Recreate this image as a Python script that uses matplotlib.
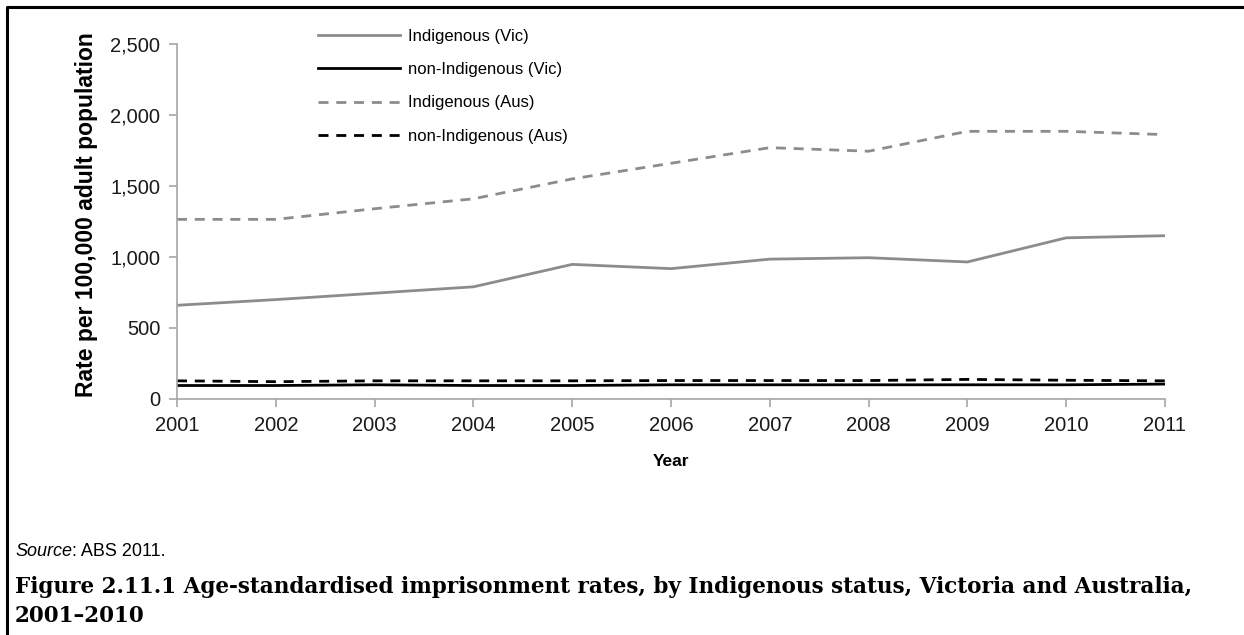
import matplotlib
matplotlib.use("Agg")
import matplotlib.pyplot as plt
from matplotlib.lines import Line2D

plt.rcParams['font.family'] = ['Liberation Sans', 'DejaVu Sans']

years = [2001, 2002, 2003, 2004, 2005, 2006, 2007, 2008, 2009, 2010, 2011]
indig_vic = [660, 700, 745, 790, 948, 918, 985, 995, 965, 1135, 1150]
non_indig_vic = [95, 95, 100, 95, 95, 100, 100, 100, 100, 100, 105]
indig_aus = [1265, 1265, 1340, 1410, 1550, 1660, 1770, 1745, 1885, 1885, 1862]
non_indig_aus = [128, 122, 128, 128, 128, 130, 130, 130, 138, 132, 128]
y_ticks = [0, 500, 1000, 1500, 2000, 2500]

W, H = 1244, 635
fig = plt.figure(figsize=(W / 100, H / 100), dpi=100, facecolor='white')

# axes box in pixels: left 177, right 1165, top 44, bottom 399
ax = fig.add_axes([177 / W, 1 - 399 / H, (1165 - 177) / W, (399 - 44) / H])

grey = '#8c8c8c'
dash = (0, (3.6, 2.8))
ax.plot(years, indig_vic, color=grey, lw=2.0, label='Indigenous (Vic)')
ax.plot(years, non_indig_vic, color='black', lw=2.0, label='non-Indigenous (Vic)')
ax.plot(years, indig_aus, color=grey, lw=2.0, ls=dash, label='Indigenous (Aus)')
ax.plot(years, non_indig_aus, color='black', lw=2.0, ls=dash, label='non-Indigenous (Aus)')

ax.set_xlim(years[0], years[-1])
ax.set_ylim(0, 2500)
ax.set_xticks(years)
ax.set_yticks(y_ticks)
ax.set_yticklabels([f"{v:,}" for v in y_ticks])

for s in ['top', 'right']:
    ax.spines[s].set_visible(False)
for s in ['left', 'bottom']:
    ax.spines[s].set_color('#a6a6a6')
    ax.spines[s].set_linewidth(1.2)
ax.tick_params(axis='both', direction='out', length=6, width=1.2, color='#a6a6a6',
               labelsize=14.5, labelcolor='#1a1a1a')
ax.tick_params(axis='x', pad=6)
ax.tick_params(axis='y', pad=6)

ax.set_xlabel('Year', fontsize=12.5, fontweight='bold', labelpad=14)
ax.set_ylabel('Rate per 100,000 adult population', fontsize=16.5, fontweight='bold')
ax.yaxis.set_label_coords(-0.08, 0.52)

leg = ax.legend(loc='upper left', bbox_to_anchor=(0.128, 1.085), frameon=False,
                fontsize=12, handlelength=4.9, handletextpad=0.5, labelspacing=1.1)

# outer frame (left and top edges only)
fig.add_artist(Line2D([7 / W, 7 / W, 1.0], [0.0, 1 - 7 / H, 1 - 7 / H],
                      transform=fig.transFigure, color='black', lw=2.2))

src = fig.text(15 / W, 1 - 552 / H, 'Source', style='italic', fontsize=13, va='center')
fig.canvas.draw()
src_w = src.get_window_extent().width
fig.text((15 + src_w) / W, 1 - 552 / H, ': ABS 2011.', fontsize=13, va='center')

cap_font = ['DejaVu Serif']
cap1 = fig.text(15 / W, 1 - 587 / H,
                'Figure 2.11.1 Age-standardised imprisonment rates, by Indigenous status, Victoria and Australia,',
                family=cap_font, fontweight='bold', fontsize=16, va='center')
# size caption so that the first line ends near the right edge like the original
fig.canvas.draw()
target = 1195 - 15
cap_size = 16 * target / cap1.get_window_extent().width
cap1.set_fontsize(cap_size)
fig.text(15 / W, 1 - 616 / H, '2001\u20132010',
         family=cap_font, fontweight='bold', fontsize=cap_size, va='center')

fig.savefig('out.png', dpi=100, facecolor='white')
